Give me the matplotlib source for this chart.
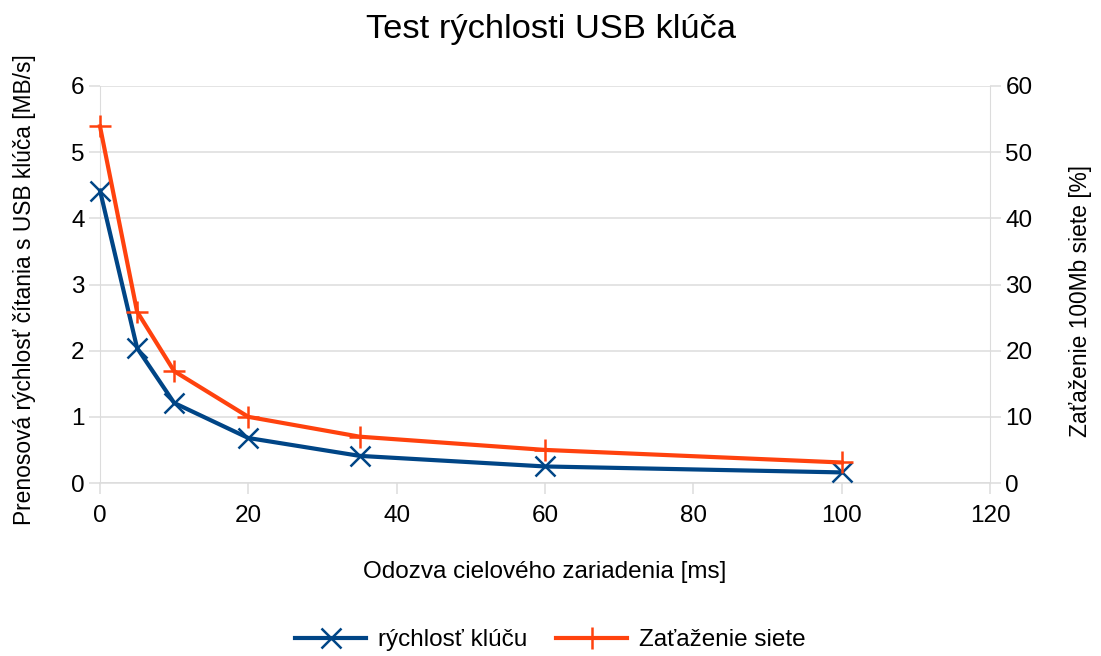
import matplotlib
matplotlib.use("Agg")
import matplotlib.pyplot as plt
from matplotlib.lines import Line2D

plt.rcParams['font.family'] = ['Liberation Sans', 'DejaVu Sans']

x_ms = [0, 5, 10, 20, 35, 60, 100]
speed = [4.42, 2.04, 1.21, 0.68, 0.41, 0.25, 0.16]
load = [53.9, 25.9, 16.9, 10.0, 7.0, 5.0, 3.1]

title = "Test rýchlosti USB klúča"
xlabel = "Odozva cielového zariadenia [ms]"
ylabel_left = "Prenosová rýchlosť čítania s USB klúča [MB/s]"
ylabel_right = "Zaťaženie 100Mb siete [%]"
names = ["rýchlosť klúču", "Zaťaženie siete"]

blue = "#004586"
orange = "#ff420e"
grid_c = "#dcdcdc"

fs = 17.5
W, H = 1101, 656

fig = plt.figure(figsize=(W/100, H/100), dpi=100)
ax = fig.add_axes([100/W, (H-483)/H, 890/W, 397/H])
ax2 = ax.twinx()

ax.set_xlim(0, 120)
ax.set_ylim(0, 6)
ax2.set_ylim(0, 60)
ax.set_xticks(range(0, 121, 20))
ax.set_yticks(range(0, 7))
ax2.set_yticks(range(0, 61, 10))

ax.grid(axis='y', color=grid_c, linewidth=1.1)
ax.set_axisbelow(True)
for a in (ax, ax2):
    for s in a.spines.values():
        s.set_visible(False)
ax.spines['left'].set_visible(True)
ax.spines['left'].set_color(grid_c)
ax2.spines['right'].set_visible(True)
ax2.spines['right'].set_color(grid_c)
ax.spines['bottom'].set_visible(True)
ax.spines['bottom'].set_color(grid_c)
ax.spines['bottom'].set_linewidth(1.1)

ax.tick_params(axis='both', color=grid_c, length=8, width=1.1, labelsize=fs, pad=3)
ax2.tick_params(axis='y', color=grid_c, length=8, width=1.1, labelsize=fs, pad=3)
ax.tick_params(axis='x', pad=8)

l1, = ax.plot(x_ms, speed, color=blue, lw=3, marker='x', ms=14, mew=1.8, clip_on=False, zorder=3)
l2, = ax2.plot(x_ms, load, color=orange, lw=3, marker='+', ms=16, mew=1.8, clip_on=False, zorder=3)

fig.text(0.5, 0.955, title, ha='center', va='center', fontsize=24.8)
ax.set_xlabel(xlabel, fontsize=fs, labelpad=24)
fig.text(25/W, 1 - 290/H, ylabel_left, rotation=90, ha='center', va='center', fontsize=16.4)
fig.text(1081/W, 1 - 301/H, ylabel_right, rotation=90, ha='center', va='center', fontsize=16.4)

h1 = Line2D([], [], color=blue, lw=3, marker='x', ms=14, mew=1.8)
h2 = Line2D([], [], color=orange, lw=3, marker='+', ms=16, mew=1.8)
fig.legend([h1, h2], names, loc='center', bbox_to_anchor=(0.5, (H-640)/H), ncol=2,
           frameon=False, fontsize=fs, handlelength=2.9, columnspacing=1.2, handletextpad=0.5)

fig.savefig("out.png", dpi=100)
